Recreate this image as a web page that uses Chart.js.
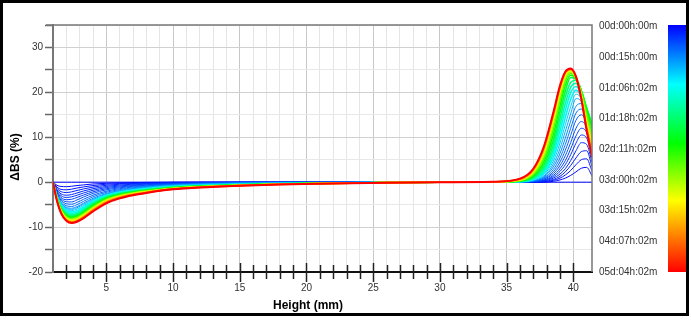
<!DOCTYPE html>
<html><head><meta charset="utf-8">
<script src="https://cdn.jsdelivr.net/npm/chart.js@4.4.1/dist/chart.umd.min.js"></script>
<style>html,body{margin:0;padding:0;background:#fff;overflow:hidden}#wrap{position:relative;width:691px;height:320px}</style>
</head><body><div id="wrap"><canvas id="c" width="691" height="320"></canvas></div>
<script>
// Height positions (mm) where each scan is sampled
const heightMm = [1,1.3,1.6,2,2.4,2.8,3.3,4,5,6,7,8,10,12,15,18,22,26,30,34,36,37,37.8,38.5,39,39.4,39.8,40.2,40.6,41,41.4];
// Scan time as fraction of total run (0 = 00d:00h:00m, 1 = 05d:04h:02m)
const scanTimeFrac = [0,0.01,0.02,0.03,0.04,0.05,0.06,0.075,0.09,0.11,0.13,0.16,0.19,0.23,0.27,0.32,0.37,0.43,0.49,0.55,0.62,0.69,0.76,0.83,0.91,1.0];
// Delta backscattering (%) per scan
const scan00 = [0,0,0,0,0,0,0,0,0,0,0,0,0,0,0,0,0,0,0,0,0,0,0,0,0,0,0,0,0,0,0];
const scan01 = [0,-0.7,-0.95,-1.0,-0.9,-0.75,-0.6,-0.4,-0.25,-0.15,-0.1,-0.05,0,0,0,0,0,0,0,0,0,0,0,0.2,0.5,0.9,1.5,2.3,3.1,3.3,1.4];
const scan02 = [0,-1.1,-1.6,-1.7,-1.55,-1.3,-1.05,-0.75,-0.45,-0.3,-0.2,-0.12,-0.05,0,0,0,0,0,0,0,0,0,0.1,0.4,0.9,1.6,2.6,3.9,5.0,5.2,2.5];
const scan03 = [0,-1.4,-2.1,-2.3,-2.15,-1.85,-1.5,-1.1,-0.7,-0.45,-0.3,-0.2,-0.1,-0.05,0,0,0,0,0,0,0,0.05,0.2,0.6,1.3,2.3,3.7,5.4,6.8,7.0,3.5];
const scan04 = [0,-1.7,-2.6,-2.9,-2.75,-2.4,-1.95,-1.45,-0.95,-0.65,-0.45,-0.3,-0.15,-0.08,-0.03,0,0,0,0,0,0,0.1,0.3,0.9,1.8,3.0,4.8,7.0,8.8,8.4,4.5];
const scan05 = [0,-1.9,-3.0,-3.4,-3.25,-2.9,-2.4,-1.8,-1.2,-0.85,-0.6,-0.42,-0.22,-0.12,-0.05,0,0,0,0,0,0,0.1,0.4,1.2,2.4,3.9,6.1,8.7,10.5,9.8,5.4];
const scan06 = [0,-2.1,-3.4,-3.9,-3.8,-3.4,-2.85,-2.15,-1.45,-1.05,-0.75,-0.55,-0.3,-0.17,-0.08,-0.03,0,0,0,0,0,0.15,0.5,1.5,3.0,4.8,7.4,10.3,12.0,11.0,6.2];
const scan07 = [0,-2.3,-3.7,-4.35,-4.4,-3.95,-3.3,-2.5,-1.7,-1.25,-0.9,-0.68,-0.38,-0.22,-0.11,-0.05,0,0,0,0,0,0.2,0.7,1.9,3.7,5.9,8.8,12.0,13.5,12.1,6.9];
const scan08 = [0,-2.5,-4.0,-4.8,-4.9,-4.5,-3.8,-2.9,-2.0,-1.45,-1.07,-0.82,-0.47,-0.28,-0.14,-0.07,-0.02,0,0,0,0,0.2,0.8,2.3,4.5,7.1,10.4,13.8,15.0,13.0,7.5];
const scan09 = [0,-2.7,-4.3,-5.25,-5.4,-5.0,-4.25,-3.25,-2.25,-1.65,-1.23,-0.95,-0.56,-0.35,-0.18,-0.09,-0.03,0,0,0,0.05,0.3,1.0,2.8,5.4,8.4,12.0,15.4,16.3,13.6,8.0];
const scan10 = [0,-2.85,-4.55,-5.6,-5.8,-5.45,-4.65,-3.6,-2.5,-1.85,-1.4,-1.08,-0.65,-0.41,-0.22,-0.12,-0.05,0,0,0,0.05,0.3,1.2,3.4,6.4,9.8,13.6,16.9,17.5,14.0,8.4];
const scan11 = [0,-2.95,-4.7,-5.8,-6.05,-5.7,-4.9,-3.85,-2.68,-2.0,-1.52,-1.17,-0.72,-0.47,-0.26,-0.14,-0.06,-0.01,0,0,0.1,0.4,1.4,4.0,7.5,11.3,15.2,18.6,17.9,14.2,8.6];
const scan12 = [0,-3.0,-4.82,-6.0,-6.3,-6.0,-5.2,-4.1,-2.85,-2.15,-1.64,-1.27,-0.79,-0.52,-0.3,-0.17,-0.08,-0.02,0,0,0.1,0.5,1.7,4.7,8.7,12.8,16.8,19.6,18.5,14.5,9.0];
const scan13 = [0,-3.05,-5.0,-6.24,-6.6,-6.38,-5.5,-4.2,-2.9,-2.22,-1.79,-1.48,-0.99,-0.74,-0.49,-0.31,-0.19,-0.06,0,0,0.1,0.6,2.0,5.5,10.0,14.4,18.4,20.5,18.9,14.8,9.5];
const scan14 = [0,-3.18,-5.23,-6.52,-6.9,-6.67,-5.8,-4.45,-3.05,-2.34,-1.88,-1.56,-1.04,-0.78,-0.52,-0.32,-0.19,-0.06,0,0,0.15,0.7,2.4,6.4,11.4,16.0,19.9,21.3,19.6,15.8,11.0];
const scan15 = [0,-3.32,-5.46,-6.8,-7.2,-6.96,-6.06,-4.65,-3.2,-2.45,-1.98,-1.63,-1.09,-0.82,-0.54,-0.34,-0.2,-0.07,0,0.02,0.2,0.8,2.8,7.3,12.8,17.5,21.1,22.0,20.0,16.2,12.0];
const scan16 = [0,-3.44,-5.65,-7.04,-7.45,-7.21,-6.29,-4.86,-3.35,-2.57,-2.07,-1.71,-1.14,-0.86,-0.57,-0.36,-0.21,-0.07,0,0.03,0.2,1.0,3.3,8.3,14.2,19.0,22.2,22.7,20.3,16.4,12.8];
const scan17 = [0,-3.55,-5.84,-7.28,-7.7,-7.44,-6.52,-5.05,-3.5,-2.68,-2.16,-1.79,-1.19,-0.89,-0.6,-0.37,-0.22,-0.07,0,0.04,0.25,1.2,3.9,9.4,15.6,20.3,23.3,22.9,20.4,16.5,13.0];
const scan18 = [0,-3.65,-5.99,-7.46,-7.9,-7.64,-6.76,-5.3,-3.65,-2.8,-2.25,-1.86,-1.24,-0.93,-0.62,-0.39,-0.23,-0.08,0,0.05,0.3,1.4,4.6,10.6,17.0,21.6,23.8,23.1,20.3,16.0,12.2];
const scan19 = [0,-3.74,-6.14,-7.65,-8.1,-7.83,-6.96,-5.5,-3.8,-2.91,-2.35,-1.94,-1.29,-0.97,-0.65,-0.4,-0.24,-0.08,0,0.06,0.35,1.7,5.3,11.8,18.2,22.6,24.2,23.2,20.0,15.2,11.0];
const scan20 = [0,-3.83,-6.29,-7.84,-8.3,-8.03,-7.15,-5.66,-3.95,-3.02,-2.44,-2.02,-1.34,-1.01,-0.67,-0.42,-0.25,-0.08,0,0.07,0.4,2.0,6.0,12.9,19.2,23.3,24.5,23.3,19.6,14.2,9.8];
const scan21 = [0,-3.92,-6.44,-8.03,-8.5,-8.22,-7.35,-5.85,-4.1,-3.14,-2.53,-2.09,-1.4,-1.05,-0.7,-0.44,-0.26,-0.09,0,0.08,0.5,2.3,6.6,13.8,20.0,23.8,24.75,23.4,19.3,13.3,8.6];
const scan22 = [0,-4.02,-6.6,-8.22,-8.7,-8.41,-7.55,-6.0,-4.25,-3.25,-2.62,-2.17,-1.45,-1.08,-0.72,-0.45,-0.27,-0.09,0,0.08,0.55,2.5,7.1,14.5,20.6,24.2,24.95,23.4,19.0,12.6,7.6];
const scan23 = [0,-4.09,-6.71,-8.37,-8.85,-8.56,-7.7,-6.18,-4.4,-3.37,-2.71,-2.25,-1.5,-1.12,-0.75,-0.47,-0.28,-0.09,0,0.09,0.65,2.7,7.5,15.0,21.0,24.4,25.1,23.5,18.8,12.1,6.8];
const scan24 = [0,-4.15,-6.82,-8.5,-9.0,-8.7,-7.88,-6.35,-4.55,-3.48,-2.81,-2.32,-1.55,-1.16,-0.77,-0.48,-0.29,-0.1,0,0.1,0.7,2.9,7.8,15.3,21.3,24.5,25.2,23.5,18.6,11.8,6.1];
const scan25 = [0,-4.2,-6.9,-8.6,-9.1,-8.8,-8.0,-6.5,-4.7,-3.6,-2.9,-2.4,-1.6,-1.2,-0.8,-0.5,-0.3,-0.1,0,0.1,0.8,3.0,8.0,15.5,21.5,24.6,25.3,23.5,18.5,11.5,5.5];
const scans = [scan00,scan01,scan02,scan03,scan04,scan05,scan06,scan07,scan08,scan09,scan10,scan11,scan12,scan13,scan14,scan15,scan16,scan17,scan18,scan19,scan20,scan21,scan22,scan23,scan24,scan25];
// Colour-bar time labels
const timeLabels = ['00d:00h:00m','00d:15h:00m','01d:06h:02m','01d:18h:02m','02d:11h:02m','03d:00h:02m','03d:15h:02m','04d:07h:02m','05d:04h:02m'];
const xTitle = 'Height (mm)';
const yTitle = '\u0394BS (%)';

const colorStops = [[0,[0,0,255]],[0.24,[0,255,255]],[0.48,[0,255,0]],[0.71,[255,255,0]],[1,[255,0,0]]];
function timeColor(t){
  for(let i=1;i<colorStops.length;i++){
    if(t<=colorStops[i][0]){
      const [t0,c0]=colorStops[i-1],[t1,c1]=colorStops[i];
      const f=(t-t0)/(t1-t0);
      const c=c0.map((v,k)=>Math.round(v+(c1[k]-v)*f));
      return `rgb(${c[0]},${c[1]},${c[2]})`;
    }
  }
  return 'rgb(255,0,0)';
}
const FONT='"Liberation Sans", Arial, sans-serif';

const decor = {
  id:'decor',
  afterDraw(chart){
    const ctx=chart.ctx, a=chart.chartArea, xs=chart.scales.x;
    ctx.save();
    // plot frame top & right
    ctx.strokeStyle='#777'; ctx.lineWidth=1.5;
    ctx.beginPath(); ctx.moveTo(46,a.top); ctx.lineTo(a.right,a.top); ctx.lineTo(a.right,a.bottom); ctx.stroke();
    // crossing x ticks
    ctx.strokeStyle='#222'; ctx.lineWidth=1.5;
    xs.ticks.forEach(t=>{
      const v=t.value;
      if(Math.abs(v-Math.round(v))>1e-6 || v<=1) return;
      const px=Math.round(xs.getPixelForValue(v))+0.5;
      const major=(v%5===0);
      ctx.beginPath();
      ctx.moveTo(px,a.bottom-(major?9:7));
      ctx.lineTo(px,a.bottom+(major?10:7));
      ctx.stroke();
    });
    // colour bar
    const g=ctx.createLinearGradient(0,a.top,0,a.bottom);
    colorStops.forEach(s=>g.addColorStop(s[0],`rgb(${s[1].join(',')})`));
    ctx.fillStyle=g; ctx.fillRect(668,a.top,18,a.bottom-a.top);
    // colour bar labels
    ctx.fillStyle='#333'; ctx.font='10px '+FONT; ctx.textAlign='left'; ctx.textBaseline='middle';
    const n=timeLabels.length-1;
    timeLabels.forEach((s,i)=>ctx.fillText(s,599,a.top+1.5+i*(a.bottom-a.top-1.5)/n));
    // axis titles
    ctx.fillStyle='#000'; ctx.font='bold 12px '+FONT; ctx.textAlign='center';
    ctx.fillText(xTitle,308,306);
    ctx.save(); ctx.translate(16,157); ctx.rotate(-Math.PI/2); ctx.fillText(yTitle,0,0); ctx.restore();
    // outer frame
    ctx.strokeStyle='#000'; ctx.lineWidth=3;
    ctx.strokeRect(1.5,1.5,686,313);
    ctx.restore();
  }
};

new Chart(document.getElementById('c'),{
  type:'line',
  data:{datasets:scans.map((arr,i)=>({
    data:arr.map((y,j)=>({x:heightMm[j],y})),
    borderColor:timeColor(scanTimeFrac[i]),
    borderWidth:i===scans.length-1?2:(scanTimeFrac[i]>0.2?1.6:1),
    pointRadius:0,
    cubicInterpolationMode:'monotone',
    fill:false,
    order:scans.length-i
  }))},
  options:{
    responsive:false, animation:false, devicePixelRatio:1,
    layout:{padding:{left:0,top:25,right:99,bottom:0}},
    plugins:{legend:{display:false},tooltip:{enabled:false}},
    scales:{
      x:{type:'linear',min:1,max:41.4,
        afterFit:s=>{s.height=48;},
        ticks:{stepSize:1,autoSkip:false,maxRotation:0,minRotation:0,padding:10,color:'#333',font:{size:10,family:FONT},
          callback:v=>(Math.abs(v%5)<1e-9?String(v):'')},
        grid:{drawTicks:false,color:c=>{const v=c.tick?c.tick.value:0;if(Math.abs(v-Math.round(v))>1e-6)return 'rgba(0,0,0,0)';return v%5===0?'#c8c8c8':'#e6e6e6';}},
        border:{display:true,color:'#111',width:2}
      },
      y:{min:-20,max:35,
        afterFit:s=>{s.width=53;},
        ticks:{stepSize:5,padding:2,color:'#333',font:{size:10,family:FONT},
          callback:v=>(v%10===0?String(v):'')},
        grid:{color:c=>{const v=c.tick?c.tick.value:0;return v%10===0?'#d0d0d0':'#e8e8e8';},tickLength:8,tickColor:'#666',tickWidth:1.5},
        border:{display:true,color:'#777',width:2}
      }
    }
  },
  plugins:[decor]
});
</script></body></html>
